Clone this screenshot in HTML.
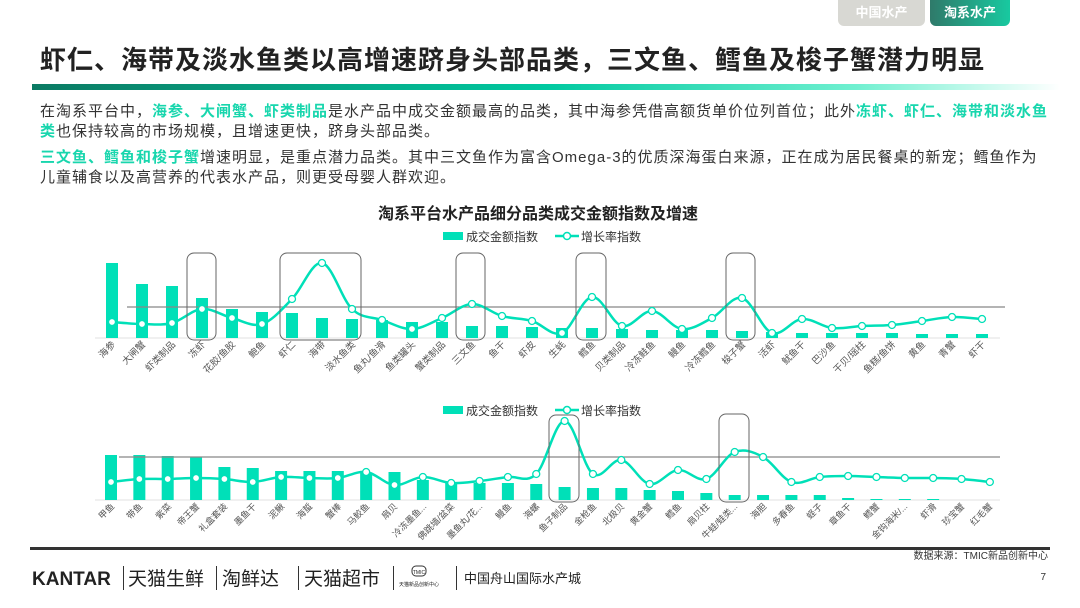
<!DOCTYPE html>
<html><head><meta charset="utf-8"><style>
body{margin:0;width:1080px;height:608px;background:#fff;font-family:"Liberation Sans","Noto Sans CJK SC",sans-serif;overflow:hidden;position:relative}
.tab{position:absolute;top:0;height:26px;color:#fff;font-size:13px;font-weight:bold;line-height:26px;text-align:center;border-radius:0 0 6px 6px}
h1{position:absolute;left:40px;top:40px;margin:0;font-size:26px;font-weight:bold;color:#222;letter-spacing:1px}
.bar{position:absolute;left:32px;top:84px;width:1028px;height:6px;background:linear-gradient(90deg,#0b7a63,#00c9a0 50%,#6ff0d0 80%,#fff)}
.p{position:absolute;left:40px;width:1012px;font-size:15px;letter-spacing:1px;line-height:20px;color:#333}
.g{color:#18d6ad;font-weight:bold}
svg{position:absolute;left:0;top:0}
</style></head><body>
<div class="tab" style="left:838px;width:87px;background:#d8d8d3">中国水产</div>
<div class="tab" style="left:930px;width:80px;background:linear-gradient(90deg,#2f7a6a,#18c9a0)">淘系水产</div>
<h1>虾仁、海带及淡水鱼类以高增速跻身头部品类，三文鱼、鳕鱼及梭子蟹潜力明显</h1>
<div class="bar"></div>
<div class="p" style="top:102px">在淘系平台中，<span class="g">海参、大闸蟹、虾类制品</span>是水产品中成交金额最高的品类，其中海参凭借高额货单价位列首位；此外<span class="g">冻虾、虾仁、海带和淡水鱼</span><br><span class="g">类</span>也保持较高的市场规模，且增速更快，跻身头部品类。</div>
<div class="p" style="top:148px"><span class="g">三文鱼、鳕鱼和梭子蟹</span>增速明显，是重点潜力品类。其中三文鱼作为富含Omega-3的优质深海蛋白来源，正在成为居民餐桌的新宠；鳕鱼作为<br>儿童辅食以及高营养的代表水产品，则更受母婴人群欢迎。</div>
<svg width="1080" height="608" id="s">
<g font-size="16" font-weight="bold" fill="#222"><text x="538" y="219" text-anchor="middle">淘系平台水产品细分品类成交金额指数及增速</text></g>
<g font-size="12" fill="#333">
<rect x="443" y="232" width="20" height="8" fill="#00e0b8"/><text x="466" y="241">成交金额指数</text>
<line x1="555" y1="236" x2="579" y2="236" stroke="#00e0b8" stroke-width="2.5"/><circle cx="567" cy="236" r="3.5" fill="#fff" stroke="#00e0b8" stroke-width="1.5"/><text x="581" y="241">增长率指数</text>
<rect x="443" y="406" width="20" height="8" fill="#00e0b8"/><text x="466" y="415">成交金额指数</text>
<line x1="555" y1="410" x2="579" y2="410" stroke="#00e0b8" stroke-width="2.5"/><circle cx="567" cy="410" r="3.5" fill="#fff" stroke="#00e0b8" stroke-width="1.5"/><text x="581" y="415">增长率指数</text>
</g>
<g id="g1"></g><g id="g2"></g>
<g font-size="9.5" fill="#555" text-anchor="end">
<text transform="translate(116,345) rotate(-45)">海参</text>
<text transform="translate(146,345) rotate(-45)">大闸蟹</text>
<text transform="translate(176,345) rotate(-45)">虾类制品</text>
<text transform="translate(206,345) rotate(-45)">冻虾</text>
<text transform="translate(236,345) rotate(-45)">花胶/鱼胶</text>
<text transform="translate(266,345) rotate(-45)">鲍鱼</text>
<text transform="translate(296,345) rotate(-45)">虾仁</text>
<text transform="translate(326,345) rotate(-45)">海带</text>
<text transform="translate(356,345) rotate(-45)">淡水鱼类</text>
<text transform="translate(386,345) rotate(-45)">鱼丸/鱼滑</text>
<text transform="translate(416,345) rotate(-45)">鱼类罐头</text>
<text transform="translate(446,345) rotate(-45)">蟹类制品</text>
<text transform="translate(476,345) rotate(-45)">三文鱼</text>
<text transform="translate(506,345) rotate(-45)">鱼干</text>
<text transform="translate(536,345) rotate(-45)">虾皮</text>
<text transform="translate(566,345) rotate(-45)">生蚝</text>
<text transform="translate(596,345) rotate(-45)">鳕鱼</text>
<text transform="translate(626,345) rotate(-45)">贝类制品</text>
<text transform="translate(656,345) rotate(-45)">冷冻鲑鱼</text>
<text transform="translate(686,345) rotate(-45)">鳗鱼</text>
<text transform="translate(716,345) rotate(-45)">冷冻鳕鱼</text>
<text transform="translate(746,345) rotate(-45)">梭子蟹</text>
<text transform="translate(776,345) rotate(-45)">活虾</text>
<text transform="translate(806,345) rotate(-45)">鱿鱼干</text>
<text transform="translate(836,345) rotate(-45)">巴沙鱼</text>
<text transform="translate(866,345) rotate(-45)">干贝/瑶柱</text>
<text transform="translate(896,345) rotate(-45)">鱼糕/鱼饼</text>
<text transform="translate(926,345) rotate(-45)">黄鱼</text>
<text transform="translate(956,345) rotate(-45)">青蟹</text>
<text transform="translate(986,345) rotate(-45)">虾干</text>
</g>
<g font-size="9" fill="#555" text-anchor="end">
<text transform="translate(115,507) rotate(-45)">甲鱼</text>
<text transform="translate(143,507) rotate(-45)">带鱼</text>
<text transform="translate(172,507) rotate(-45)">紫菜</text>
<text transform="translate(200,507) rotate(-45)">帝王蟹</text>
<text transform="translate(228,507) rotate(-45)">礼盒套装</text>
<text transform="translate(257,507) rotate(-45)">墨鱼干</text>
<text transform="translate(285,507) rotate(-45)">泥鳅</text>
<text transform="translate(313,507) rotate(-45)">海蜇</text>
<text transform="translate(342,507) rotate(-45)">蟹棒</text>
<text transform="translate(370,507) rotate(-45)">马鲛鱼</text>
<text transform="translate(398,507) rotate(-45)">扇贝</text>
<text transform="translate(427,507) rotate(-45)">冷冻墨鱼...</text>
<text transform="translate(455,507) rotate(-45)">佛跳墙/盆菜</text>
<text transform="translate(483,507) rotate(-45)">墨鱼丸/花...</text>
<text transform="translate(512,507) rotate(-45)">鳗鱼</text>
<text transform="translate(540,507) rotate(-45)">海螺</text>
<text transform="translate(568,507) rotate(-45)">鱼子制品</text>
<text transform="translate(597,507) rotate(-45)">金枪鱼</text>
<text transform="translate(625,507) rotate(-45)">北极贝</text>
<text transform="translate(653,507) rotate(-45)">黄金蟹</text>
<text transform="translate(682,507) rotate(-45)">鳕鱼</text>
<text transform="translate(710,507) rotate(-45)">扇贝柱</text>
<text transform="translate(738,507) rotate(-45)">牛蛙/蛙类...</text>
<text transform="translate(767,507) rotate(-45)">海胆</text>
<text transform="translate(795,507) rotate(-45)">多春鱼</text>
<text transform="translate(823,507) rotate(-45)">蛏子</text>
<text transform="translate(852,507) rotate(-45)">章鱼干</text>
<text transform="translate(880,507) rotate(-45)">鳕蟹</text>
<text transform="translate(908,507) rotate(-45)">金钩海米/...</text>
<text transform="translate(937,507) rotate(-45)">虾滑</text>
<text transform="translate(965,507) rotate(-45)">珍宝蟹</text>
<text transform="translate(993,507) rotate(-45)">红毛蟹</text>
</g>
<rect x="30" y="547" width="1020" height="3" fill="#333"/>
<text x="1048" y="559" font-size="10" fill="#333" text-anchor="end">数据来源：TMIC新品创新中心</text>
<text x="1046" y="580" font-size="10" fill="#333" text-anchor="end">7</text>
<g fill="#222">
<text x="32" y="585" font-size="19" font-weight="bold">KANTAR</text>
<rect x="123" y="566" width="1" height="24" fill="#333"/>
<text x="128" y="585" font-size="19">天猫生鲜</text>
<rect x="216" y="566" width="1" height="24" fill="#333"/>
<text x="222" y="585" font-size="19">淘鲜达</text>
<rect x="298" y="566" width="1" height="24" fill="#333"/>
<text x="304" y="585" font-size="19">天猫超市</text>
<rect x="393" y="566" width="1" height="24" fill="#333"/>
<rect x="412" y="566" width="14" height="10" rx="4" fill="none" stroke="#333"/>
<text x="419" y="574" font-size="5" text-anchor="middle">TMIC</text>
<text x="419" y="586" font-size="5" text-anchor="middle">天猫新品创新中心</text>
<rect x="456" y="566" width="1" height="24" fill="#333"/>
<text x="464" y="583" font-size="13">中国舟山国际水产城</text>
</g>
</svg>
<script>
var NS="http://www.w3.org/2000/svg";
function el(p,t,a){var e=document.createElementNS(NS,t);for(var k in a)e.setAttribute(k,a[k]);p.appendChild(e);return e;}
function spline(pts){var d="M"+pts[0][0]+","+pts[0][1];for(var i=0;i<pts.length-1;i++){var p0=pts[i-1]||pts[i],p1=pts[i],p2=pts[i+1],p3=pts[i+2]||p2;var t=0.17;d+=" C"+(p1[0]+(p2[0]-p0[0])*t)+","+(p1[1]+(p2[1]-p0[1])*t)+" "+(p2[0]-(p3[0]-p1[0])*t)+","+(p2[1]-(p3[1]-p1[1])*t)+" "+p2[0]+","+p2[1];}return d;}
function chart(g,x0,dx,base,ref,rx1,rx2,bars,line,boxes){
 el(g,"line",{x1:95,x2:1000,y1:base,y2:base,stroke:"#e0e0e0","stroke-width":1});
 for(var i=0;i<bars.length;i++){var x=x0+dx*i;el(g,"rect",{x:x-6,y:bars[i],width:12,height:base-bars[i],fill:"#00e0b8"});}
 el(g,"line",{x1:rx1,x2:rx2,y1:ref,y2:ref,stroke:"#888","stroke-width":1.2});
 var pts=line.map(function(y,i){return [x0+dx*i,y];});
 el(g,"path",{d:spline(pts),fill:"none",stroke:"#00e0b8","stroke-width":2.5});
 pts.forEach(function(p){el(g,"circle",{cx:p[0],cy:p[1],r:3.5,fill:"#fff",stroke:"#00e0b8","stroke-width":1.3});});
 boxes.forEach(function(b){el(g,"rect",{x:b[0],y:b[1],width:b[2]-b[0],height:b[3]-b[1],rx:7,fill:"none",stroke:"#666","stroke-width":1});});
}
chart(document.getElementById("g1"),112,30,338,307,127,1005,
[263,284,286,298,309,312,313,318,319,320,322,322,326,326,327,328,328,329,330,330,330,331,332,333,333,333,333,334,334,334],
[322,324,323,309,318,324,299,263,309,320,329,318,304,316,321,333,297,326,311,329,318,298,333,319,328,326,325,321,317,319],
[[187,253,216,340],[280,253,361,340],[456,253,485,340],[576,253,606,340],[726,253,755,340]]);
chart(document.getElementById("g2"),111,28.35,500,457,119,1000,
[455,455,456,457,467,468,471,471,471,473,472,480,482,483,483,484,487,488,488,490,491,493,495,495,495,495,498,499,499,499,500,500],
[482,479,479,478,479,482,477,478,478,472,485,477,483,481,477,474,421,474,460,484,470,479,452,457,482,477,476,477,478,478,479,482],
[[549,415,579,502],[719,414,749,502]]);
</script>
</body></html>
